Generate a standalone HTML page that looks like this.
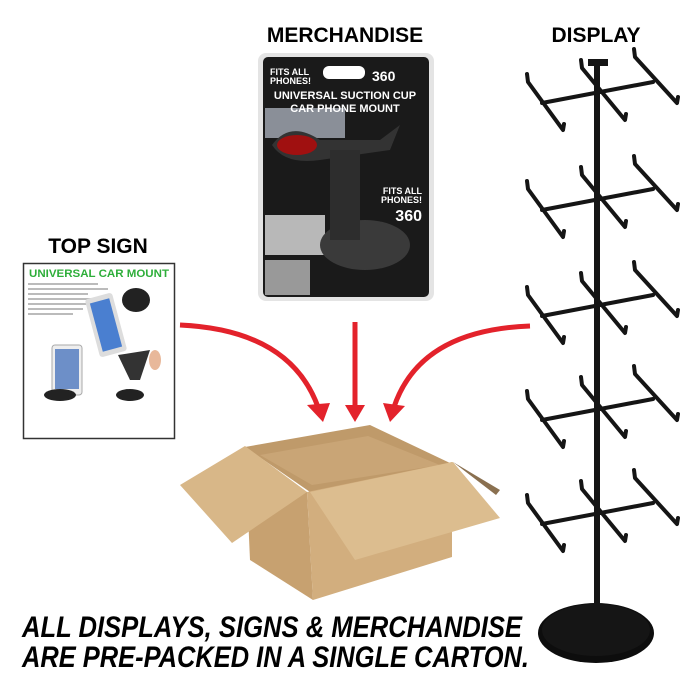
<!DOCTYPE html>
<html><head><meta charset="utf-8"><style>html,body{margin:0;padding:0;background:#fff}svg{display:block}</style></head>
<body>
<svg width="700" height="700" viewBox="0 0 700 700" xmlns="http://www.w3.org/2000/svg" font-family="Liberation Sans, sans-serif">
<defs>
<g id="tier" stroke="#151515" stroke-width="4" fill="none" stroke-linecap="round" stroke-linejoin="round">
<line x1="-55" y1="10" x2="56" y2="-11"/>
<path d="M-70,-19 L-69,-11 L-34,37 L-33,31"/>
<path d="M37,-44 L38,-36 L80,10 L81,4"/>
<path d="M-16,-33 L-15,-25 L28,27 L29,21"/>
</g>
</defs>
<text x="345" y="42" text-anchor="middle" font-weight="bold" font-size="21">MERCHANDISE</text>
<text x="596" y="42" text-anchor="middle" font-weight="bold" font-size="21">DISPLAY</text>
<text x="98" y="253" text-anchor="middle" font-weight="bold" font-size="21">TOP SIGN</text>
<!-- merchandise -->
<rect x="258" y="53" width="176" height="248" rx="8" fill="#e4e4e4"/>
<rect x="263" y="57" width="166" height="240" rx="5" fill="#1a1a1a"/>
<rect x="265" y="108" width="80" height="30" fill="#8a8f98"/>
<rect x="265" y="215" width="60" height="40" fill="#b8b8b8"/>
<rect x="265" y="260" width="45" height="35" fill="#999"/>
<ellipse cx="365" cy="245" rx="45" ry="25" fill="#3a3a3a"/>
<path d="M272,145 Q290,120 320,140 L380,140 L400,125 L390,150 L320,160 Q285,165 272,145Z" fill="#333"/>
<ellipse cx="297" cy="145" rx="20" ry="10" fill="#a01010"/>
<rect x="330" y="150" width="30" height="90" fill="#2d2d2d"/>
<text x="270" y="75" fill="#fff" font-weight="bold" font-size="9">FITS ALL</text>
<text x="270" y="84" fill="#fff" font-weight="bold" font-size="9">PHONES!</text>
<rect x="323" y="66" width="42" height="13" rx="6" fill="#fff"/>
<text x="372" y="81" fill="#fff" font-weight="bold" font-size="14">360</text>
<text x="345" y="99" text-anchor="middle" fill="#fff" font-weight="bold" font-size="11">UNIVERSAL SUCTION CUP</text>
<text x="345" y="112" text-anchor="middle" fill="#fff" font-weight="bold" font-size="11">CAR PHONE MOUNT</text>
<text x="422" y="194" text-anchor="end" fill="#fff" font-weight="bold" font-size="9">FITS ALL</text>
<text x="422" y="203" text-anchor="end" fill="#fff" font-weight="bold" font-size="9">PHONES!</text>
<text x="422" y="221" text-anchor="end" fill="#fff" font-weight="bold" font-size="16">360</text>
<!-- top sign -->
<rect x="23.5" y="263.5" width="151" height="175" fill="#fff" stroke="#333" stroke-width="1.5"/>
<text x="99" y="277" text-anchor="middle" fill="#2eae3a" font-weight="bold" font-size="11" textLength="140" lengthAdjust="spacingAndGlyphs">UNIVERSAL CAR MOUNT</text>
<g fill="#bbb"><rect x="28" y="283" width="70" height="2"/><rect x="28" y="288" width="80" height="2"/><rect x="28" y="293" width="60" height="2"/><rect x="28" y="298" width="70" height="2"/><rect x="28" y="303" width="60" height="2"/><rect x="28" y="308" width="55" height="2"/><rect x="28" y="313" width="45" height="2"/></g>
<rect x="92" y="295" width="28" height="60" rx="3" fill="#ddd" transform="rotate(-15 106 325)"/>
<rect x="96" y="300" width="20" height="50" fill="#4a7fd0" transform="rotate(-15 106 325)"/>
<ellipse cx="136" cy="300" rx="14" ry="12" fill="#222"/>
<rect x="52" y="345" width="30" height="50" rx="3" fill="#eee" stroke="#aaa"/>
<rect x="55" y="349" width="24" height="40" fill="#6d8fc8"/>
<ellipse cx="60" cy="395" rx="16" ry="6" fill="#222"/>
<ellipse cx="130" cy="395" rx="14" ry="6" fill="#222"/>
<path d="M118,355 L150,350 L140,380 L130,380Z" fill="#333"/>
<ellipse cx="155" cy="360" rx="6" ry="10" fill="#e8b89a"/>
<!-- arrows -->
<g fill="none" stroke="#e3222b" stroke-width="5">
<path d="M180,325 Q290,330 318,407"/>
<path d="M355,322 L355,405"/>
<path d="M530,326 Q420,330 394,407"/>
</g>
<g fill="#e3222b">
<polygon points="307,405 330,403 323,422"/>
<polygon points="345,405 365,405 355,422"/>
<polygon points="383,403 405,406 390,422"/>
</g>
<!-- box -->
<polygon points="245,447 370,425 450,463 310,492" fill="#bf9a6a"/>
<polygon points="260,455 368,436 440,465 312,485" fill="#c9a576"/>
<polygon points="245,447 307,492 313,600 250,560" fill="#c7a170"/>
<polygon points="307,492 452,462 452,557 313,600" fill="#d2ae7e"/>
<polygon points="180,485 245,446 307,492 232,543" fill="#d8b788"/>
<polygon points="310,492 453,462 500,518 355,560" fill="#dcbd8f"/>
<polygon points="453,462 500,490 496,495" fill="#8a7050"/>
<!-- rack -->
<ellipse cx="596" cy="633" rx="58" ry="30" fill="#0d0d0d"/>
<ellipse cx="596" cy="630" rx="54" ry="26" fill="#151515"/>
<rect x="594" y="64" width="6" height="546" fill="#151515"/>
<rect x="588" y="59" width="20" height="7" fill="#151515"/>
<use href="#tier" x="597" y="93"/>
<use href="#tier" x="597" y="200"/>
<use href="#tier" x="597" y="306"/>
<use href="#tier" x="597" y="410"/>
<use href="#tier" x="597" y="514"/>
<!-- bottom text -->
<text x="22" y="637" font-weight="bold" font-style="italic" font-size="30" textLength="500" lengthAdjust="spacingAndGlyphs">ALL DISPLAYS, SIGNS &amp; MERCHANDISE</text>
<text x="22" y="667" font-weight="bold" font-style="italic" font-size="30" textLength="507" lengthAdjust="spacingAndGlyphs">ARE PRE-PACKED IN A SINGLE CARTON.</text>
</svg>
</body></html>
